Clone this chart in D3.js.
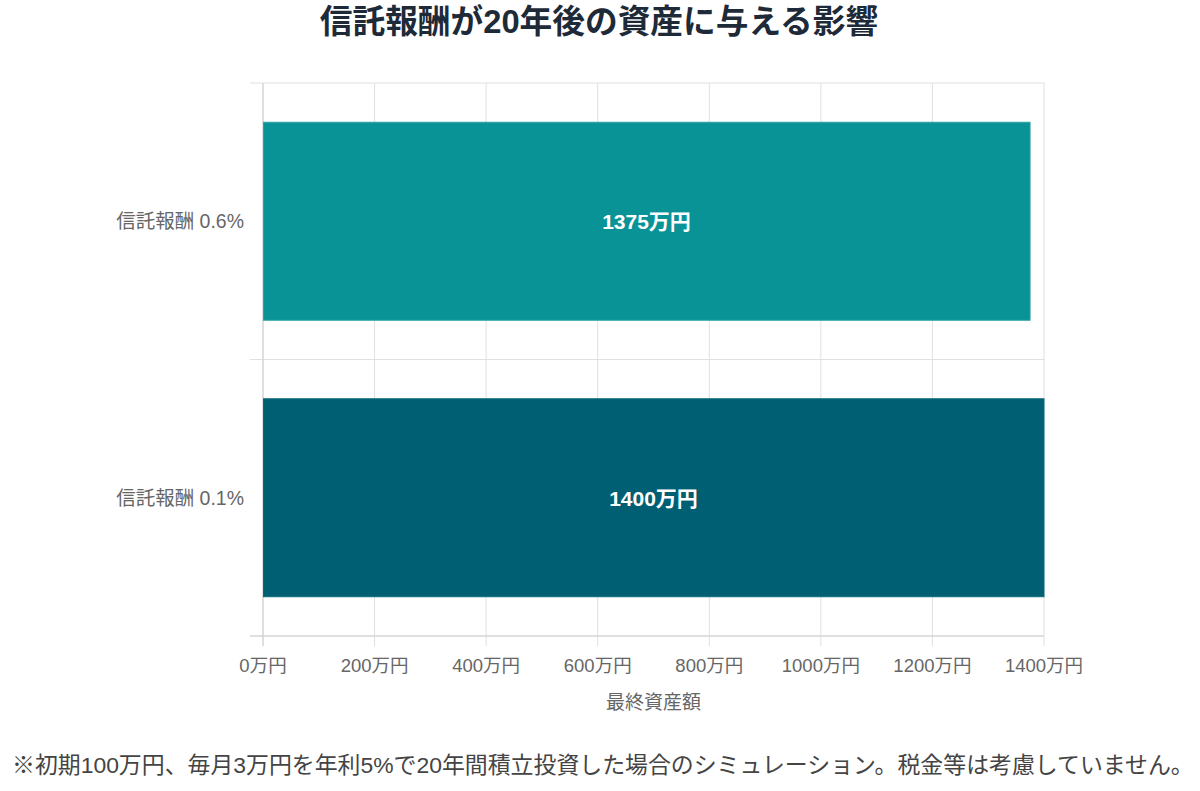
<!DOCTYPE html>
<html><head><meta charset="utf-8">
<script src="https://cdn.jsdelivr.net/npm/d3@7"></script>
<style>
body{margin:0;background:#fff;}
svg{display:block;font-family:"Liberation Sans","Noto Sans CJK JP",sans-serif;}
</style></head>
<body><svg id="c" width="1200" height="791"></svg>
<script>
const categories = ["信託報酬 0.6%", "信託報酬 0.1%"];
const values = [1375, 1400];
const barColors = ["#0a9396", "#005f73"];
const borderColors = ["#2aa3a5", "#0a6a7c"];
const xTicks = [0, 200, 400, 600, 800, 1000, 1200, 1400];
const title = "信託報酬が20年後の資産に与える影響";
const xTitle = "最終資産額";
const footnote = "※初期100万円、毎月3万円を年利5%で20年間積立投資した場合のシミュレーション。税金等は考慮していません。";

const svg = d3.select("#c");
const m = {l:263, r:1044, t:83, b:636};
const x = d3.scaleLinear().domain([0,1400]).range([m.l, m.r]);
const y = d3.scaleBand().domain(categories).range([m.t, m.b]).paddingInner(0).paddingOuter(0);
const barPad = 0.142;

// title
svg.append("text").attr("x",599).attr("y",33).attr("text-anchor","middle")
  .attr("font-size",32.7).attr("font-weight","bold").attr("fill","#1e2a38").text(title);

// vertical grid
const g = svg.append("g");
g.selectAll("line.vg").data(xTicks).join("line")
  .attr("x1",d=>x(d)).attr("x2",d=>x(d)).attr("y1",m.t).attr("y2",m.b+10)
  .attr("stroke","#e0e0e0").attr("stroke-width",1);
// horizontal grid at category boundaries
const bounds = [m.t, y(categories[1]), m.b];
g.selectAll("line.hg").data(bounds).join("line")
  .attr("x1",m.l-13).attr("x2",m.r).attr("y1",d=>d).attr("y2",d=>d)
  .attr("stroke","#e0e0e0").attr("stroke-width",1);
// axis lines
g.append("line").attr("x1",m.l).attr("x2",m.l).attr("y1",m.t).attr("y2",m.b+10).attr("stroke","#cfcfcf");
g.append("line").attr("x1",m.l-13).attr("x2",m.r).attr("y1",m.b).attr("y2",m.b).attr("stroke","#cfcfcf");

// bars
const bh = y.bandwidth()*(1-2*barPad);
svg.selectAll("rect.bar").data(values).join("rect")
  .attr("x",x(0)+0.5).attr("y",(d,i)=>y(categories[i])+y.bandwidth()*barPad)
  .attr("width",d=>x(d)-x(0)-0.5).attr("height",bh)
  .attr("fill",(d,i)=>barColors[i]).attr("stroke",(d,i)=>borderColors[i]).attr("stroke-width",1);

// bar labels
svg.selectAll("text.bl").data(values).join("text")
  .attr("x",d=>(x(0)+x(d))/2).attr("y",(d,i)=>y(categories[i])+y.bandwidth()/2+8)
  .attr("text-anchor","middle").attr("font-size",21).attr("font-weight","bold").attr("fill","#fff")
  .text(d=>d+"万円");

// y labels
svg.selectAll("text.yl").data(categories).join("text")
  .attr("x",244).attr("y",d=>y(d)+y.bandwidth()/2+7)
  .attr("text-anchor","end").attr("font-size",19.5).attr("fill","#666").text(d=>d);

// x tick labels
svg.selectAll("text.xl").data(xTicks).join("text")
  .attr("x",d=>x(d)).attr("y",672).attr("text-anchor","middle")
  .attr("font-size",18.5).attr("fill","#666").text(d=>d+"万円");

svg.append("text").attr("x",(m.l+m.r)/2).attr("y",709).attr("text-anchor","middle")
  .attr("font-size",19).attr("fill","#666").text(xTitle);

svg.append("text").attr("x",12).attr("y",773)
  .attr("font-size",22.9).attr("fill","#444").text(footnote);
</script></body></html>
